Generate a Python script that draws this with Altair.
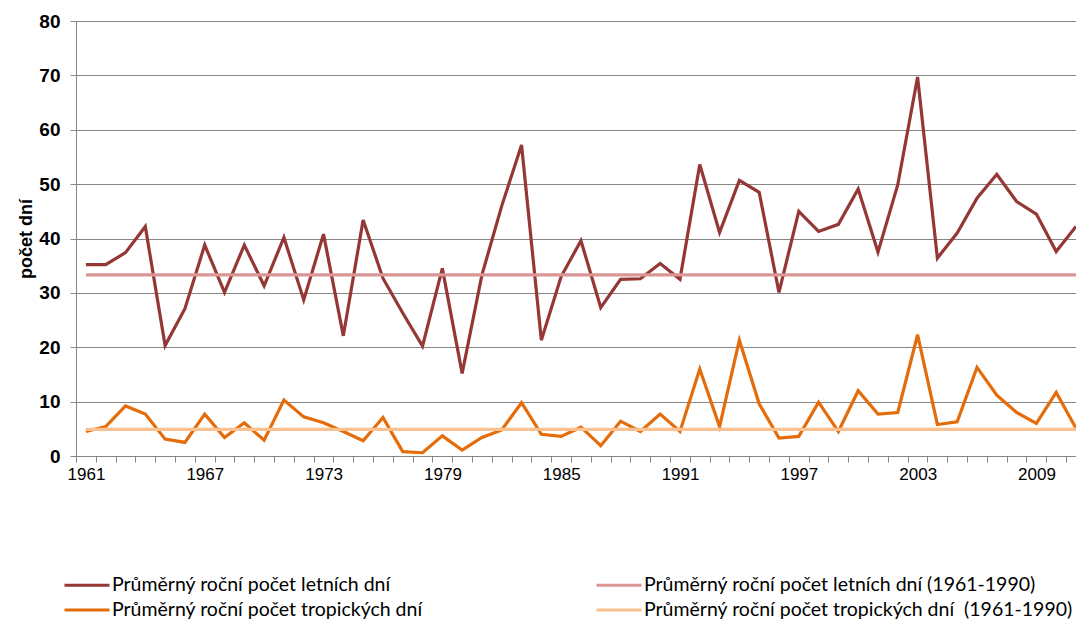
import altair as alt
import pandas as pd

years = list(range(1961, 2012))

letni = [35.2, 35.2, 37.4, 42.2, 20.3, 27.1, 38.8, 30.1, 38.8, 31.3,
         40.2, 28.7, 40.8, 22.1, 43.4, 32.7, 26.3, 20.2, 34.5, 15.2,
         33.3, 46.0, 57.2, 21.3, 33.0, 39.6, 27.3, 32.5, 32.6, 35.4,
         32.5, 53.6, 41.1, 50.7, 48.5, 30.1, 45.0, 41.3, 42.6, 49.1,
         37.5, 49.9, 69.7, 36.4, 41.0, 47.4, 51.8, 46.8, 44.5, 37.6,
         42.2]

tropicke = [4.5, 5.4, 9.2, 7.7, 3.1, 2.5, 7.7, 3.4, 6.1, 2.9,
            10.3, 7.2, 6.1, 4.5, 2.8, 7.1, 0.8, 0.6, 3.7, 1.1,
            3.4, 4.8, 9.8, 4.0, 3.6, 5.3, 1.9, 6.4, 4.5, 7.7,
            4.5, 16.0, 5.4, 21.3, 9.6, 3.3, 3.6, 9.9, 4.5, 12.0,
            7.7, 8.0, 22.3, 5.8, 6.3, 16.3, 11.2, 8.0, 6.0, 11.7,
            5.1]

prumer_letni = 33.3
prumer_tropicke = 4.9

S_LETNI = "Průměrný roční počet letních dní"
S_LETNI_AVG = "Průměrný roční počet letních dní (1961-1990)"
S_TROP = "Průměrný roční počet tropických dní"
S_TROP_AVG = "Průměrný roční počet tropických dní\u00a0 (1961-1990)"

# legend fills column by column: col 1 = data series, col 2 = averages
series = [S_LETNI, S_TROP, S_LETNI_AVG, S_TROP_AVG]
colors = ["#953735", "#E46C0A", "#D99694", "#FAC090"]
widths = [3.2, 3.2, 3.6, 3.6]

y_ticks = list(range(0, 81, 10))
x_bounds = [y - 0.5 for y in years] + [years[-1] + 0.5]

rows = []
for i, yr in enumerate(years):
    rows.append({"rok": yr, "hodnota": letni[i], "rada": S_LETNI})
for i, yr in enumerate(years):
    rows.append({"rok": yr, "hodnota": tropicke[i], "rada": S_TROP})
for i, yr in enumerate(years):
    rows.append({"rok": yr, "hodnota": prumer_letni, "rada": S_LETNI_AVG})
for i, yr in enumerate(years):
    rows.append({"rok": yr, "hodnota": prumer_tropicke, "rada": S_TROP_AVG})
df = pd.DataFrame(rows)

GREY = "#868686"

chart = alt.Chart(df).mark_line(clip=True).encode(
    x=alt.X(
        "rok:Q",
        scale=alt.Scale(domain=[1960.5, 2011.0], nice=False, zero=False),
        axis=alt.Axis(
            values=x_bounds,
            labelExpr="(datum.value - 1960.5) % 6 == 0 ? toString(datum.value + 0.5) : ''",
            labelOffset=10,
            labelFlush=False,
            labelOverlap=False,
            labelFont="Liberation Sans",
            labelFontSize=17,
            labelColor="#000000",
            labelPadding=4,
            ticks=True,
            tickSize=6,
            tickColor=GREY,
            domainColor=GREY,
            grid=False,
            title=None,
        ),
    ),
    y=alt.Y(
        "hodnota:Q",
        scale=alt.Scale(domain=[0, 80], nice=False),
        axis=alt.Axis(
            values=y_ticks,
            title="počet dní",
            titleFont="Liberation Sans",
            titleFontSize=18,
            titleFontWeight="bold",
            titleColor="#000000",
            titlePadding=3,
            labelFont="Liberation Sans",
            labelFontSize=19,
            labelFontWeight="bold",
            labelColor="#000000",
            labelPadding=10,
            tickSize=6,
            tickColor=GREY,
            domainColor=GREY,
            gridColor=GREY,
            gridWidth=1,
        ),
    ),
    color=alt.Color(
        "rada:N",
        scale=alt.Scale(domain=series, range=colors),
        legend=alt.Legend(
            title=None,
            orient="none",
            legendX=-2,
            legendY=551,
            columns=2,
            columnPadding=167,
            rowPadding=2,
            padding=0,
            symbolType="M-2,0L2,0",
            symbolSize=506,
            symbolStrokeWidth=4,
            labelOffset=12,
            labelFont="Lato",
            labelFontSize=19.5,
            labelColor="#000000",
            labelLimit=600,
        ),
    ),
    strokeWidth=alt.StrokeWidth(
        "rada:N",
        scale=alt.Scale(domain=series, range=widths),
        legend=None,
    ),
).properties(
    width=1000,
    height=435,
    autosize=alt.AutoSizeParams(type="none"),
    padding={"left": 68, "top": 13, "right": 0, "bottom": 164},
).configure_view(stroke=None)

chart.save("out.html", embed_options={"renderer": "svg", "actions": False})
